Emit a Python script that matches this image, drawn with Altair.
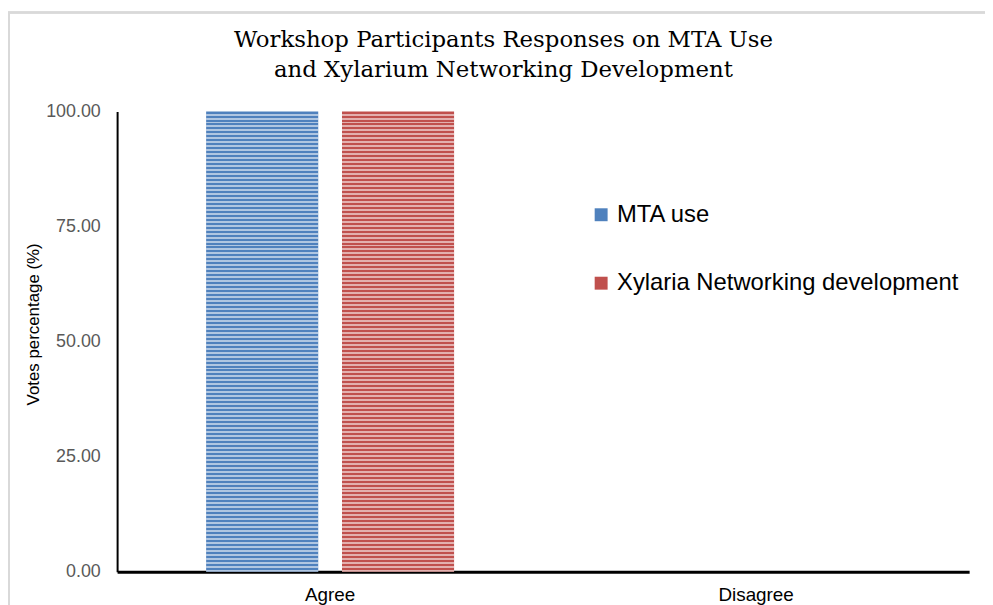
import altair as alt
import pandas as pd

categories = ["Agree", "Disagree"]
series = ["MTA use", "Xylaria Networking development"]
mta_values = [100.0, 0.0]
xylaria_values = [100.0, 0.0]
y_ticks = [0, 25, 50, 75, 100]
colors = ["#4f81bd", "#c0504d"]

rows = []
for c, v in zip(categories, mta_values):
    rows.append({"Category": c, "Series": series[0], "Value": v})
for c, v in zip(categories, xylaria_values):
    rows.append({"Category": c, "Series": series[1], "Value": v})
df = pd.DataFrame(rows)

# horizontal stripe texture as a gradient overlay
n_stripes = 116
stops = []
for i in range(n_stripes):
    a = i / n_stripes
    m = (i + 0.5) / n_stripes
    b = (i + 1) / n_stripes
    stops += [
        {"offset": round(a, 6), "color": "rgba(255,255,255,0.0)"},
        {"offset": round(m, 6), "color": "rgba(255,255,255,0.0)"},
        {"offset": round(m, 6), "color": "rgba(255,255,255,0.55)"},
        {"offset": round(b, 6), "color": "rgba(255,255,255,0.55)"},
    ]
stripe = {"gradient": "linear", "x1": 0, "y1": 0, "x2": 0, "y2": 1, "stops": stops}

x_enc = alt.X("Category:N", sort=categories, title=None,
              scale=alt.Scale(paddingInner=0.418, paddingOuter=0.209),
              axis=alt.Axis(labelAngle=0, labelFont="Liberation Sans", labelFontSize=19,
                            labelColor="#000000", ticks=False, domainColor="#000000",
                            domainWidth=3, labelPadding=14))
xoff_enc = alt.XOffset("Series:N", sort=series,
                       scale=alt.Scale(paddingInner=0.175, paddingOuter=0))
y_enc = alt.Y("Value:Q", title="Votes percentage (%)",
              scale=alt.Scale(domain=[0, 100], nice=False),
              axis=alt.Axis(values=y_ticks, format=".2f", grid=False, ticks=False,
                            labelFont="Liberation Sans", labelFontSize=18,
                            labelColor="#595959", labelPadding=17,
                            domainColor="#000000", domainWidth=2,
                            titleFont="Liberation Sans", titleFontSize=17,
                            titleFontWeight="normal", titleColor="#000000",
                            titlePadding=3, titleY=214))

bars = alt.Chart(df).mark_bar().encode(
    x=x_enc,
    xOffset=xoff_enc,
    y=y_enc,
    color=alt.Color("Series:N", sort=series,
                    scale=alt.Scale(domain=series, range=colors),
                    legend=alt.Legend(title=None, orient="none", legendX=476, legendY=92,
                                      symbolType="square", symbolSize=170,
                                      symbolStrokeWidth=0,
                                      labelFont="Liberation Sans", labelFontSize=24,
                                      labelColor="#000000", rowPadding=45,
                                      labelOffset=4, labelLimit=500)),
)

overlay = alt.Chart(df).mark_bar(color=stripe).encode(
    x=alt.X("Category:N", sort=categories),
    xOffset=alt.XOffset("Series:N", sort=series),
    y=alt.Y("Value:Q"),
)

border_v = alt.Chart(df).mark_rule(color="#d9d9d9", strokeWidth=2).encode(
    x=alt.value(-109), y=alt.value(-100), y2=alt.value(520))
border_h = alt.Chart(df).mark_rule(color="#d9d9d9", strokeWidth=2).encode(
    x=alt.value(-110), x2=alt.value(880), y=alt.value(-100))

chart = alt.layer(border_v, border_h, bars, overlay).properties(
    width=859, height=464,
    title=alt.Title(["Workshop Participants Responses on MTA Use",
                     "and Xylarium Networking Development"],
                    font="DejaVu Serif", fontSize=23, fontWeight="normal",
                    color="#000000", anchor="middle", dx=-40, dy=97, offset=26,
                    lineHeight=30),
    padding={"left": 110, "top": 102, "right": 16, "bottom": 31},
    autosize=alt.AutoSizeParams(type="none"),
).configure_view(stroke=None)

chart.save("out.html", embed_options={"renderer": "svg", "actions": False})
